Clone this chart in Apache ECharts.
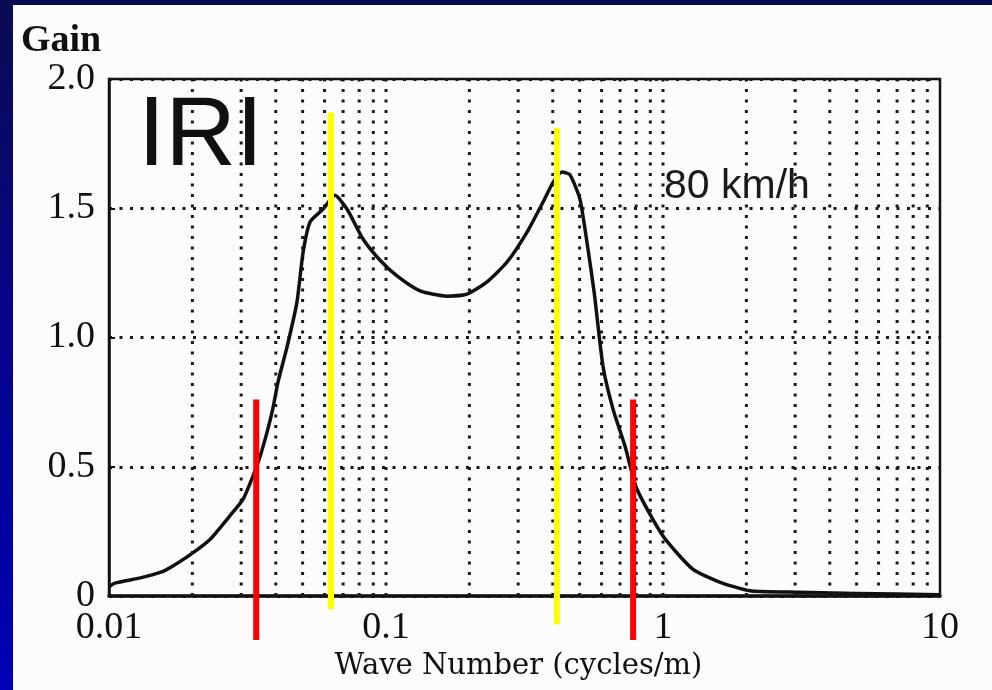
<!DOCTYPE html>
<html>
<head>
<meta charset="utf-8">
<script src="https://cdn.jsdelivr.net/npm/echarts@6/dist/echarts.min.js"></script>
<style>
  html, body { margin: 0; padding: 0; width: 992px; height: 690px; overflow: hidden;
    background: linear-gradient(to bottom, #0b0b52 0%, #05058a 45%, #0000b6 100%); }
  #paper { position: absolute; left: 13px; top: 5px; width: 979px; height: 685px; background: #fcfcfc; }
  #chart { position: absolute; left: 0; top: 0; width: 992px; height: 690px; }
</style>
</head>
<body>
<div id="paper"></div>
<div id="chart"></div>
<script>
// ---- data ----
const waveNumbers = [0.01, 0.0105, 0.013, 0.0155, 0.017, 0.0196, 0.0232, 0.0273, 0.0305, 0.0331, 0.0351,
  0.0372, 0.039, 0.0408, 0.044, 0.0477, 0.0502, 0.0532, 0.0593, 0.0654, 0.0723, 0.0826, 0.095,
  0.1096, 0.1327, 0.166, 0.196, 0.2317, 0.2735, 0.323, 0.369, 0.401, 0.432, 0.461, 0.501, 0.536,
  0.565, 0.607, 0.66, 0.729, 0.805, 1.0, 1.28, 1.6, 2.06, 2.8, 5, 10];
const gainValues = [0.035, 0.05, 0.07, 0.093, 0.116, 0.159, 0.22, 0.31, 0.375, 0.464, 0.54,
  0.634, 0.723, 0.83, 0.967, 1.137, 1.33, 1.447, 1.497, 1.55, 1.497, 1.381, 1.30,
  1.238, 1.18, 1.16, 1.168, 1.215, 1.292, 1.408, 1.524, 1.60, 1.64, 1.63, 1.536, 1.342,
  1.17, 0.89, 0.723, 0.58, 0.414, 0.232, 0.104, 0.054, 0.02, 0.015, 0.01, 0.005];
const xTickLabels = ['0.01', '0.1', '1', '10'];
const yTickLabels = ['0', '0.5', '1.0', '1.5', '2.0'];
const gridWaveNumbers = [0.02, 0.03, 0.04, 0.05, 0.06, 0.07, 0.08, 0.09, 0.1,
  0.2, 0.3, 0.4, 0.5, 0.6, 0.7, 0.8, 0.9, 1,
  2, 3, 4, 5, 6, 7, 8, 9];
const markerWaveNumbers = [0.034, 0.0633, 0.414, 0.78];
const markerTops = [0.76, 1.87, 1.81, 0.76];
const markerBottoms = [-0.17, -0.05, -0.11, -0.17];
const markerKinds = ['red', 'yellow', 'yellow', 'red'];

// ---- styles ----
const markerColor = { red: '#ff0000', yellow: '#ffff00' };
const dotted = { color: '#1a1a1a', width: 3, type: [3, 7.5] };

const series = [];
gridWaveNumbers.forEach(v => {
  series.push({ type: 'line', data: [[v, 0], [v, 2]], symbol: 'none', silent: true,
    lineStyle: dotted, z: 1, animation: false });
});
series.push({
  type: 'line', data: waveNumbers.map((x, i) => [x, gainValues[i]]), symbol: 'none',
  smooth: 0.2,
  lineStyle: { color: '#111', width: 3.5, join: 'round' }, z: 3, animation: false, clip: false
});
markerWaveNumbers.forEach((v, i) => {
  series.push({ type: 'line', data: [[v, markerTops[i]], [v, markerBottoms[i]]], symbol: 'none',
    clip: false, silent: true, z: 5, animation: false,
    lineStyle: { color: markerColor[markerKinds[i]], width: 6, cap: 'butt' } });
});

const chart = echarts.init(document.getElementById('chart'), null, { renderer: 'canvas' });
chart.setOption({
  backgroundColor: 'transparent',
  animation: false,
  grid: { left: 109, right: 52, top: 79, bottom: 94, show: true, borderColor: '#111', borderWidth: 2.5,
    backgroundColor: 'transparent' },
  xAxis: {
    type: 'log', logBase: 10, min: 0.01, max: 10,
    name: 'Wave Number (cycles/m)', nameLocation: 'middle', nameGap: 52,
    nameTextStyle: { fontFamily: 'DejaVu Serif', fontSize: 29, color: '#111', padding: [0, 12, 0, 0] },
    axisLine: { lineStyle: { color: '#111', width: 3.5 } },
    axisTick: { show: false },
    splitLine: { show: false },
    axisLabel: { fontFamily: 'Liberation Serif', fontSize: 38, color: '#111', margin: 13,
      formatter: v => xTickLabels[Math.round(Math.log10(v)) + 2] }
  },
  yAxis: {
    type: 'value', min: 0, max: 2, interval: 0.5,
    axisLine: { show: true, lineStyle: { color: '#111', width: 2.5 } },
    axisTick: { show: true, inside: true, length: 6, lineStyle: { color: '#111', width: 2 } },
    splitLine: { show: true, lineStyle: dotted },
    axisLabel: { fontFamily: 'Liberation Serif', fontSize: 38, color: '#111', margin: 14,
      formatter: v => yTickLabels[Math.round(v / 0.5)] }
  },
  graphic: [
    { type: 'text', left: 21, top: 22, z: 10,
      style: { text: 'Gain', font: 'bold 38px "Liberation Serif"', fill: '#111' } },
    { type: 'text', x: 138, y: 138, z: 10,
      style: { text: 'IRI', font: '98px "Liberation Sans"', fill: '#111', textVerticalAlign: 'middle' } },
    { type: 'text', x: 664, y: 187, z: 10,
      style: { text: '80 km/h', font: '41px "Liberation Sans"', fill: '#1a1a1a', textVerticalAlign: 'middle' } }
  ],
  series: series
});
</script>
</body>
</html>
